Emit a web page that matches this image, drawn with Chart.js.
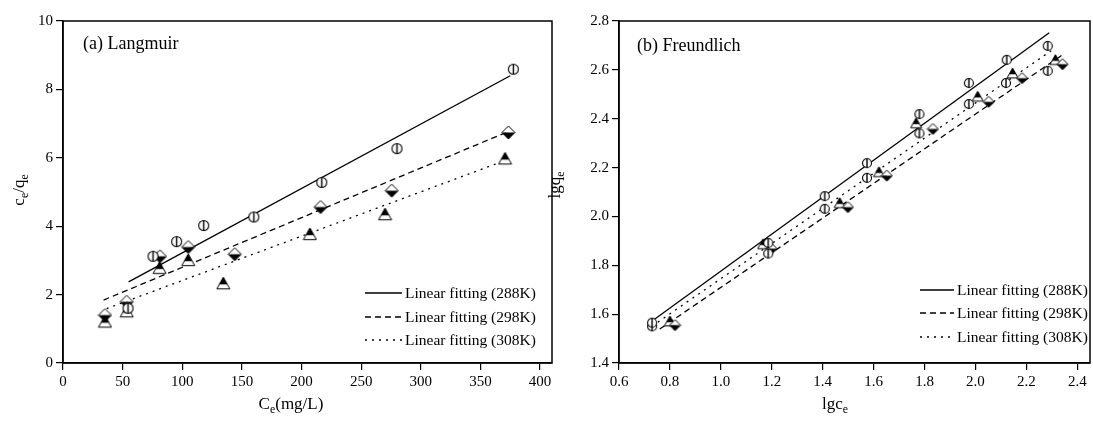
<!DOCTYPE html>
<html>
<head>
<meta charset="utf-8">
<script src="https://cdn.jsdelivr.net/npm/chart.js@4.4.1/dist/chart.umd.min.js"></script>
<style>
  body { margin: 0; background: #fff; overflow: hidden; }
  #wrap { position: relative; width: 1093px; height: 421px; overflow: hidden; }
  .pane { position: absolute; top: 0; height: 421px; }
  canvas { display: block; }
</style>
</head>
<body>
<div id="wrap">
  <div class="pane" style="left:0;width:560px"><canvas id="chartA" width="560" height="421"></canvas></div>
  <div class="pane" style="left:540px;width:557px"><canvas id="chartB" width="557" height="421"></canvas></div>
</div>
<script>
// (a) Langmuir: Ce (mg/L) vs ce/qe
var langX288 = [54.5, 75.5, 95.3, 118, 160, 217, 280, 377.6];
var langY288 = [1.6, 3.12, 3.55, 4.02, 4.27, 5.28, 6.27, 8.59];
var langX298 = [35.2, 53.4, 81.3, 105, 144, 216, 275.6, 373.4];
var langY298 = [1.4, 1.79, 3.12, 3.39, 3.18, 4.56, 5.04, 6.74];
var langX308 = [35.2, 53.4, 81, 105, 134.4, 207, 270, 370.6];
var langY308 = [1.2, 1.5, 2.77, 3.0, 2.32, 3.76, 4.34, 5.97];
// fitted lines, end points
var langFitX288 = [55, 375], langFitY288 = [2.37, 8.4];
var langFitX298 = [34, 375], langFitY298 = [1.84, 6.79];
var langFitX308 = [36.6, 370.6], langFitY308 = [1.59, 5.92];
var langXTicks = [0, 50, 100, 150, 200, 250, 300, 350, 400];
var langYTicks = [0, 2, 4, 6, 8, 10];

// (b) Freundlich: lgce vs lgqe
var frX288 = [0.73, 1.186, 1.408, 1.574, 1.78, 1.974, 2.123, 2.284];
var frY288 = [1.565, 1.891, 2.083, 2.218, 2.419, 2.546, 2.641, 2.698];
var frX288b = [0.73, 1.186, 1.408, 1.574, 1.78, 1.974, 2.12, 2.284];
var frY288b = [1.55, 1.848, 2.031, 2.158, 2.34, 2.46, 2.546, 2.596];
var frX298 = [0.82, 1.199, 1.499, 1.652, 1.833, 2.052, 2.183, 2.342];
var frY298 = [1.555, 1.868, 2.038, 2.167, 2.358, 2.469, 2.566, 2.623];
var frX308 = [0.80, 1.166, 1.467, 1.621, 1.767, 2.009, 2.146, 2.314];
var frY308 = [1.57, 1.886, 2.054, 2.181, 2.381, 2.49, 2.585, 2.64];
var frFitX288 = [0.73, 2.29], frFitY288 = [1.572, 2.752];
var frFitX298 = [0.76, 2.34], frFitY298 = [1.539, 2.66];
var frFitX308 = [0.73, 2.30], frFitY308 = [1.551, 2.68];
var frXTicks = [0.6, 0.8, 1.0, 1.2, 1.4, 1.6, 1.8, 2.0, 2.2, 2.4];
var frYTicks = [1.4, 1.6, 1.8, 2.0, 2.2, 2.4, 2.6, 2.8];

var fitLabels = ['Linear fitting (288K)', 'Linear fitting (298K)', 'Linear fitting (308K)'];
var FONT = 'Liberation Serif';

function pts(xs, ys) {
  var out = [];
  for (var i = 0; i < xs.length; i++) out.push({ x: xs[i], y: ys[i] });
  return out;
}

// marker images
function markCircle(d) {
  var c = document.createElement('canvas');
  c.width = d + 2; c.height = d + 2;
  var g = c.getContext('2d'), m = (d + 2) / 2, r = d / 2 - 0.5;
  g.fillStyle = '#fff';
  g.beginPath(); g.arc(m, m, r, 0, Math.PI * 2); g.fill();
  g.strokeStyle = '#000'; g.lineWidth = 1.1;
  g.stroke();
  g.beginPath(); g.moveTo(m, m - r); g.lineTo(m, m + r); g.lineWidth = 1.4; g.stroke();
  return c;
}
function markDiamond(d) {
  var c = document.createElement('canvas');
  c.width = d + 2; c.height = d + 2;
  var g = c.getContext('2d'), m = (d + 2) / 2, r = d / 2;
  g.fillStyle = '#fff';
  g.beginPath(); g.moveTo(m - r, m); g.lineTo(m, m - r); g.lineTo(m + r, m); g.closePath(); g.fill();
  g.fillStyle = '#000';
  g.beginPath(); g.moveTo(m - r, m); g.lineTo(m, m + r); g.lineTo(m + r, m); g.closePath(); g.fill();
  g.strokeStyle = '#000'; g.lineWidth = 1;
  g.beginPath(); g.moveTo(m - r, m); g.lineTo(m, m - r); g.lineTo(m + r, m); g.lineTo(m, m + r); g.closePath(); g.stroke();
  return c;
}
function markTriangle(d) {
  var c = document.createElement('canvas');
  c.width = d + 2; c.height = d + 2;
  var g = c.getContext('2d'), m = (d + 2) / 2, r = d / 2;
  var top = m - r, bot = m + r * 0.8, cut = top + (bot - top) * 0.62;
  var cutHalf = r * (cut - top) / (bot - top);
  g.fillStyle = '#fff';
  g.beginPath(); g.moveTo(m, top); g.lineTo(m + r, bot); g.lineTo(m - r, bot); g.closePath(); g.fill();
  g.fillStyle = '#000';
  g.beginPath(); g.moveTo(m, top); g.lineTo(m + cutHalf, cut); g.lineTo(m - cutHalf, cut); g.closePath(); g.fill();
  g.strokeStyle = '#000'; g.lineWidth = 1;
  g.beginPath(); g.moveTo(m, top); g.lineTo(m + r, bot); g.lineTo(m - r, bot); g.closePath(); g.stroke();
  return c;
}

function dotSet(label, data, img) {
  return { type: 'scatter', label: label, data: data, pointStyle: img, pointRadius: 6, showLine: false, order: 0 };
}
function fitSet(label, data, dash) {
  return { type: 'line', label: label, data: data, borderColor: '#000', borderWidth: 1.3, borderDash: dash,
    pointRadius: 0, fill: false, tension: 0, order: 1 };
}

function drawSubText(ctx, parts, size) {
  var w = 0, i;
  for (i = 0; i < parts.length; i++) {
    ctx.font = (parts[i].sub ? size * 0.7 : size) + 'px "' + FONT + '"';
    parts[i].w = ctx.measureText(parts[i].t).width;
    w += parts[i].w;
  }
  var x = -w / 2;
  ctx.textBaseline = 'middle';
  ctx.textAlign = 'left';
  for (i = 0; i < parts.length; i++) {
    ctx.font = (parts[i].sub ? size * 0.7 : size) + 'px "' + FONT + '"';
    ctx.fillText(parts[i].t, x, parts[i].sub ? size * 0.3 : 0);
    x += parts[i].w;
  }
}

var decorPlugin = {
  id: 'decor',
  afterDraw: function (chart, args, o) {
    var ctx = chart.ctx, a = chart.chartArea;
    ctx.save();
    ctx.strokeStyle = '#000'; ctx.lineWidth = 1.5;
    ctx.strokeRect(a.left, a.top, a.right - a.left, a.bottom - a.top);
    ctx.fillStyle = '#000';
    // panel label
    ctx.font = '18px "' + FONT + '"';
    ctx.textAlign = 'left'; ctx.textBaseline = 'middle';
    ctx.fillText(o.panel, o.panelX, o.panelY);
    // x title
    ctx.save(); ctx.translate(o.xTitleX, o.xTitleY); drawSubText(ctx, o.xTitle, 17); ctx.restore();
    // y title
    ctx.save(); ctx.translate(o.yTitleX, o.yTitleY); ctx.rotate(-Math.PI / 2); drawSubText(ctx, o.yTitle, 17); ctx.restore();
    // legend for the fitted lines
    var dashes = [[], [6, 4], [2, 5]];
    ctx.font = '15.5px "' + FONT + '"';
    for (var i = 0; i < fitLabels.length; i++) {
      var y = o.legY[i];
      ctx.beginPath(); ctx.setLineDash(dashes[i]); ctx.lineWidth = 1.3;
      ctx.moveTo(o.legX0, y); ctx.lineTo(o.legX1, y); ctx.stroke();
      ctx.setLineDash([]);
      ctx.textBaseline = 'middle';
      ctx.fillText(fitLabels[i], o.legX1 + 3, y + 1);
    }
    ctx.restore();
  }
};

function axis(min, max, tickVals, fmt, size) {
  return {
    type: 'linear', min: min, max: max,
    afterBuildTicks: function (s) { s.ticks = tickVals.map(function (v) { return { value: v }; }); },
    afterFit: function (s) {
      if (s.isHorizontal()) { s.height = size; } else { s.width = size; }
    },
    grid: { drawOnChartArea: false, drawTicks: true, tickLength: 7, color: '#000', lineWidth: 1.2 },
    border: { display: true, color: '#000', width: 1.5 },
    ticks: { color: '#000', padding: 3, maxRotation: 0, autoSkip: false,
      font: { family: FONT, size: 15 },
      callback: function (v) { return fmt(v); } }
  };
}

Chart.defaults.animation = false;

var bigC = markCircle(11), bigD = markDiamond(13), bigT = markTriangle(13);
var smC = markCircle(10), smD = markDiamond(11), smT = markTriangle(11);

new Chart(document.getElementById('chartA'), {
  type: 'scatter',
  data: {
    datasets: [
      fitSet(fitLabels[0], pts(langFitX288, langFitY288), []),
      fitSet(fitLabels[1], pts(langFitX298, langFitY298), [6, 4]),
      fitSet(fitLabels[2], pts(langFitX308, langFitY308), [2, 5]),
      dotSet('288K', pts(langX288, langY288), bigC),
      dotSet('298K', pts(langX298, langY298), bigD),
      dotSet('308K', pts(langX308, langY308), bigT)
    ]
  },
  options: {
    responsive: false,
    layout: { padding: { left: 0, right: 8, top: 21, bottom: 0 } },
    plugins: {
      legend: { display: false }, tooltip: { enabled: false },
      decor: {
        panel: '(a) Langmuir', panelX: 83, panelY: 44,
        xTitle: [{ t: 'C' }, { t: 'e', sub: true }, { t: '(mg/L)' }], xTitleX: 291, xTitleY: 405,
        yTitle: [{ t: 'c' }, { t: 'e', sub: true }, { t: '/q' }, { t: 'e', sub: true }], yTitleX: 20, yTitleY: 190,
        legX0: 365, legX1: 402, legY: [293, 317, 340]
      }
    },
    scales: {
      x: axis(0, 410, langXTicks, function (v) { return String(v); }, 58),
      y: axis(0, 10, langYTicks, function (v) { return String(v); }, 63)
    }
  },
  plugins: [decorPlugin]
});

new Chart(document.getElementById('chartB'), {
  type: 'scatter',
  data: {
    datasets: [
      fitSet(fitLabels[0], pts(frFitX288, frFitY288), []),
      fitSet(fitLabels[1], pts(frFitX298, frFitY298), [6, 4]),
      fitSet(fitLabels[2], pts(frFitX308, frFitY308), [2, 5]),
      dotSet('288K', pts(frX288, frY288), smC),
      dotSet('288K b', pts(frX288b, frY288b), smC),
      dotSet('298K', pts(frX298, frY298), smD),
      dotSet('308K', pts(frX308, frY308), smT)
    ]
  },
  options: {
    responsive: false,
    layout: { padding: { left: 0, right: 3, top: 21, bottom: 0 } },
    plugins: {
      legend: { display: false }, tooltip: { enabled: false },
      decor: {
        panel: '(b) Freundlich', panelX: 97, panelY: 46,
        xTitle: [{ t: 'lgc' }, { t: 'e', sub: true }], xTitleX: 295, xTitleY: 405,
        yTitle: [{ t: 'lgq' }, { t: 'e', sub: true }], yTitleX: 16, yTitleY: 185,
        legX0: 380, legX1: 414, legY: [290, 313, 337]
      }
    },
    scales: {
      x: axis(0.6, 2.45, frXTicks, function (v) { return v.toFixed(1); }, 58),
      y: axis(1.4, 2.8, frYTicks, function (v) { return v.toFixed(1); }, 79)
    }
  },
  plugins: [decorPlugin]
});
</script>
</body>
</html>
